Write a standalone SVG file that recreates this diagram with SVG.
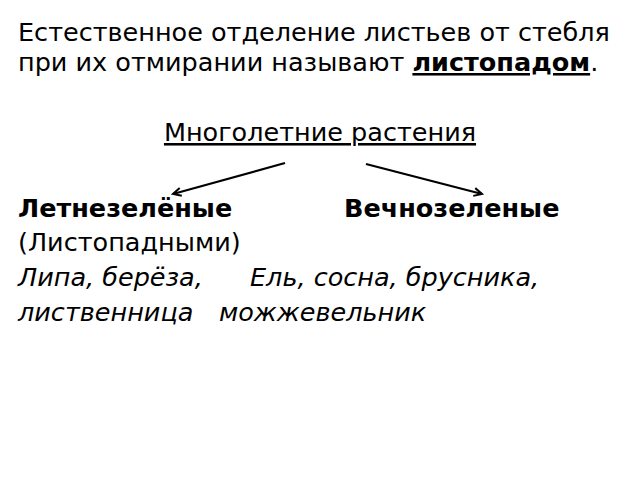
<svg xmlns="http://www.w3.org/2000/svg" width="640" height="480" viewBox="0 0 640 480">
<defs>
<marker id="ah" markerWidth="12" markerHeight="12" refX="10" refY="6" orient="auto" markerUnits="userSpaceOnUse">
<path d="M2,2 L10,6 L2,10" fill="none" stroke="#000" stroke-width="2"/>
</marker>
</defs>
<style>
text{font-family:"DejaVu Sans","Noto Sans",sans-serif;font-size:25.5px;fill:#000}
.b{font-weight:bold}
.i{font-style:italic}
.u{text-decoration:underline}
.con line{stroke:#000;stroke-width:2.2;marker-end:url(#ah)}
</style>
<rect width="640" height="480" fill="#fff"/>
<g id="intro">
<text x="18" y="41">Естественное отделение листьев от стебля</text>
<text x="18" y="71">при их отмирании называют <tspan class="b u">листопадом</tspan>.</text>
</g>
<g id="root"><text class="u" x="320" y="141" text-anchor="middle">Многолетние растения</text></g>
<g class="con" id="connectors">
<line x1="285" y1="163" x2="173" y2="194"/>
<line x1="366" y1="164" x2="482" y2="194"/>
</g>
<g id="left">
<text class="b" x="18" y="217">Летнезелёные</text>
<text x="18" y="251">(Листопадными)</text>
<text class="i" x="18" y="286">Липа, берёза,</text>
<text class="i" x="18" y="321">лиственница</text>
</g>
<g id="right">
<text class="b" x="344" y="217">Вечнозеленые</text>
<text class="i" x="250" y="286">Ель, сосна, брусника,</text>
<text class="i" x="219" y="321">можжевельник</text>
</g>
</svg>
